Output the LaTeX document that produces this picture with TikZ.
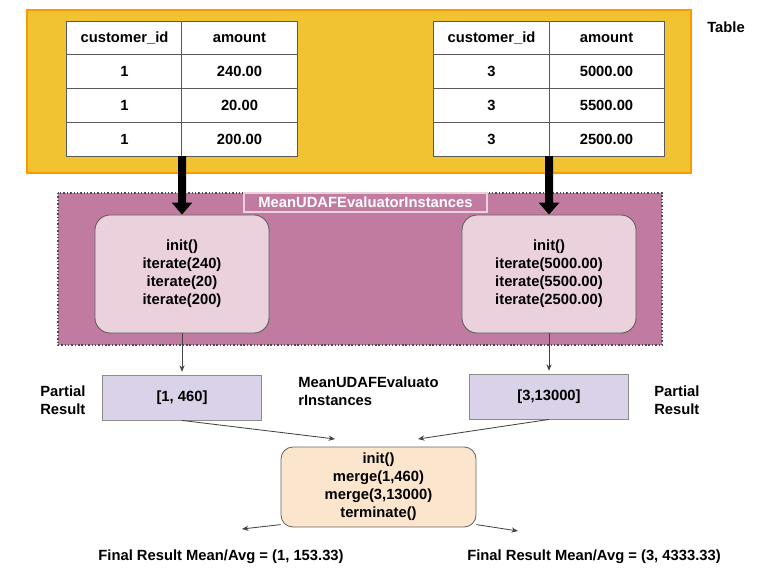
\documentclass[tikz,border=0pt]{standalone}
\usepackage{fontspec}
\setmainfont{Liberation Sans}
\usetikzlibrary{arrows.meta}
\definecolor{tbYellow}{RGB}{241,194,50}
\definecolor{tbOrange}{RGB}{255,153,0}
\definecolor{evMauve}{RGB}{194,123,160}
\definecolor{evPink}{RGB}{234,209,220}
\definecolor{prLilac}{RGB}{217,210,233}
\definecolor{mgPeach}{RGB}{252,229,205}
\definecolor{lnGray}{RGB}{67,67,67}

\begin{document}
\begin{tikzpicture}[
  x=0.025cm, y=-0.025cm, font=\fontsize{10.5}{12.8}\selectfont\bfseries,
  cell/.style={draw=black!65, fill=white, line width=0.7pt, inner sep=0pt,
               outer sep=0pt, minimum width=2.875cm, minimum height=0.84375cm},
  calls/.style={draw=black!65, fill=evPink, rounded corners=0.38cm, line width=0.6pt,
                align=center, minimum width=4.35cm, minimum height=2.95cm},
  part/.style={draw=black!45, fill=prLilac, line width=0.6pt,
               minimum width=3.975cm, minimum height=1.125cm},
  merger/.style={draw=black!60, fill=mgPeach, rounded corners=0.3cm, line width=0.6pt,
                 align=center, minimum width=4.875cm, minimum height=2cm},
  txt/.style={align=left, anchor=west, inner sep=0pt},
  feed/.style={-{Triangle[length=0.3cm,width=0.5cm]}, line width=0.2cm, draw=black},
  flow/.style={-{Stealth[length=1.6mm,width=1.3mm]}, line width=0.6pt, draw=lnGray},
]
\useasboundingbox (0,0) rectangle (782,587);

% Table: header row plus three rows, columns 115px wide.
\newcommand{\custtable}[6]{%
  \foreach \ida/\amt [count=\r from 0] in {customer\_id/amount, #3/#4, #3/#5, #3/#6} {
    \node[cell] (#1-a\r) at ({#2+57.5},{37.875+\r*33.75}) {\ida};
    \node[cell] (#1-b\r) at ({#2+172.5},{37.875+\r*33.75}) {\amt};
  }
}

% ---------------- table ----------------
\draw[draw=tbOrange, fill=tbYellow, line width=1.2pt] (27,10) rectangle (691,173);
\custtable{lt}{67}{1}{240.00}{20.00}{200.00}
\custtable{rt}{434}{3}{5000.00}{5500.00}{2500.00}
\node (tbllbl) at (726,27) {Table};

% ---------------- evaluator instances ----------------
\draw[draw=black!70, fill=evMauve, line width=0.9pt, dash pattern=on 1pt off 1.4pt]
  (58,193) rectangle (662,345);
\node[draw=evPink, line width=0.8pt, text=white, inner sep=0pt,
      minimum width=6.075cm, minimum height=0.475cm] (evlabel) at (365.5,202.5)
  {MeanUDAFEvaluatorInstances};
\node[calls] (lcalls) at (182,274) {init()\\iterate(240)\\iterate(20)\\iterate(200)};
\node[calls] (rcalls) at (549,274) {init()\\iterate(5000.00)\\iterate(5500.00)\\iterate(2500.00)};
\draw[feed] (lt-a3.south east) -- (lcalls.north);
\draw[feed] (rt-a3.south east) -- (rcalls.north);

% ---------------- partial results ----------------
\node[part] (lpart) at (182,397.5) {[1, 460]};
\node[part] (rpart) at (549,396.5) {[3,13000]};
\draw[flow, shorten >=2pt] (lcalls.south) -- (lpart.north);
\draw[flow, shorten >=2pt] (rcalls.south) -- (rpart.north);
\node[txt] (lpartlbl) at (40,400) {Partial\\Result};
\node[txt] (rpartlbl) at (654,400) {Partial\\Result};
\node[txt] (evnote) at (298,391) {MeanUDAFEvaluato\\rInstances};

% ---------------- merge ----------------
\node[merger] (merge) at (378.5,487) {init()\\merge(1,460)\\merge(3,13000)\\terminate()};
\coordinate (minL) at (335,439);
\coordinate (minR) at (418,439);
\draw[flow] (lpart.south) -- (minL);
\draw[flow] (rpart.south) -- (minR);
\coordinate (outL) at (242,529);
\coordinate (outR) at (518,531);
\draw[flow] (merge.201) -- (outL);
\draw[flow] (merge.-21) -- (outR);
\node (resl) at (221,557) {Final Result Mean/Avg = (1, 153.33)};
\node (resr) at (594,557) {Final Result Mean/Avg = (3, 4333.33)};
\end{tikzpicture}
\end{document}
